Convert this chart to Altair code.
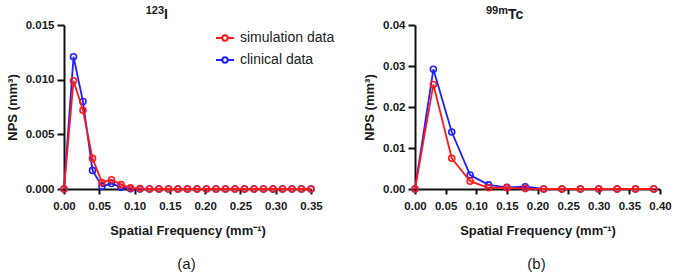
import altair as alt
import pandas as pd

FONT = "Liberation Sans"
RED = "#ff1a1a"
BLUE = "#1f1fff"

# Panel (a): 123I
freq_a = [0.0, 0.0135, 0.0269, 0.0404, 0.0538, 0.0673, 0.0808, 0.0942, 0.1077,
          0.1212, 0.1346, 0.1481, 0.1615, 0.1750, 0.1885, 0.2019, 0.2154, 0.2288,
          0.2423, 0.2558, 0.2692, 0.2827, 0.2962, 0.3096, 0.3231, 0.3365, 0.3500]
sim_a = [0.0, 0.0099, 0.0072, 0.0028, 0.0006, 0.00085, 0.0004, 0.0001, 0.00005,
         0.0, 0.0, 0.0, 0.0, 0.0, 0.0, 0.0, 0.0, 0.0,
         0.0, 0.0, 0.0, 0.0, 0.0, 0.0, 0.0, 0.0, 0.0]
cli_a = [0.0, 0.0121, 0.0080, 0.0017, 0.00024, 0.0005, 0.00015, 0.00002, 0.0,
         0.0, 0.0, 0.0, 0.0, 0.0, 0.0, 0.0, 0.0, 0.0,
         0.0, 0.0, 0.0, 0.0, 0.0, 0.0, 0.0, 0.0, 0.0]

# Panel (b): 99mTc
freq_b = [0.0, 0.03, 0.06, 0.09, 0.12, 0.15, 0.18, 0.21, 0.24, 0.27, 0.30, 0.33, 0.36, 0.39]
sim_b = [0.0, 0.0255, 0.0075, 0.0019, 0.0003, 0.0003, 0.0001, 0.0, 0.0, 0.0, 0.0, 0.0, 0.0, 0.0]
cli_b = [0.0, 0.0292, 0.0139, 0.0034, 0.0010, 0.0004, 0.00055, 0.0, 0.0, 0.0, 0.0, 0.0, 0.0, 0.0]

series = ["simulation data", "clinical data"]


def long_df(freq, sim, cli):
    rows = []
    for f, v in zip(freq, sim):
        rows.append({"f": f, "nps": v, "series": "simulation data"})
    for f, v in zip(freq, cli):
        rows.append({"f": f, "nps": v, "series": "clinical data"})
    return pd.DataFrame(rows)


SYMBOL = ("M-1,0H-0.3 M0.3,0H1 M-0.3,0A0.3,0.3 0 1,0 0.3,0"
          "A0.3,0.3 0 1,0 -0.3,0")


def text_layer(s, size, weight, align, xpos, ypos, baseline="alphabetic"):
    return alt.Chart(pd.DataFrame({"t": [s]})).mark_text(
        font=FONT, fontSize=size, fontWeight=weight, color="#1a1a1a",
        baseline=baseline, align=align,
    ).encode(text="t:N", x=alt.value(xpos), y=alt.value(ypos))


def panel(df, xmax, xticks, ymax, yticks, yfmt, sup, main, tx, label, width, height):
    color = alt.Color(
        "series:N",
        scale=alt.Scale(domain=series, range=[RED, BLUE]),
        legend=alt.Legend(
            title=None, orient="none", legendX=151, legendY=3,
            symbolType=SYMBOL, symbolSize=324, symbolStrokeWidth=2,
            symbolFillColor="transparent",
            labelFont=FONT, labelFontSize=14, labelColor="#222",
            labelOffset=5, rowPadding=5, padding=0,
        ),
    )
    x = alt.X("f:Q", scale=alt.Scale(domain=[0, xmax], nice=False),
              axis=alt.Axis(values=xticks, format=".2f", labelFlush=False,
                            labelOverlap=False, tickSize=5, labelPadding=6,
                            title="Spatial Frequency (mm⁻¹)", titlePadding=13))
    y = alt.Y("nps:Q", scale=alt.Scale(domain=[0, ymax], nice=False),
              axis=alt.Axis(values=yticks, format=yfmt, labelFlush=False,
                            labelOverlap=False, tickSize=7, labelPadding=3,
                            title="NPS (mm³)", titlePadding=6))
    layers = []
    for s in ["clinical data", "simulation data"]:
        base = alt.Chart(df).transform_filter(alt.datum.series == s)
        layers.append(base.mark_line(strokeWidth=1.8).encode(x=x, y=y, color=color))
        layers.append(base.mark_point(filled=False, size=36, strokeWidth=1.6,
                                      opacity=1).encode(x=x, y=y, color=color))
    layers.append(text_layer(sup, 11, "bold", "right", tx, -11.5))
    layers.append(text_layer(main, 14, "bold", "left", tx, -6.5))
    layers.append(text_layer(label, 15, "normal", "center", width / 2 - 1,
                             height + 75, baseline="middle"))
    return alt.layer(*layers).properties(width=width, height=height)


left = panel(long_df(freq_a, sim_a, cli_a), 0.35,
             [0, 0.05, 0.10, 0.15, 0.20, 0.25, 0.30, 0.35],
             0.015, [0, 0.005, 0.010, 0.015], ".3f", "123", "I", 100, "(a)", 247, 164)
right = panel(long_df(freq_b, sim_b, cli_b), 0.40,
              [0, 0.05, 0.10, 0.15, 0.20, 0.25, 0.30, 0.35, 0.40],
              0.04, [0, 0.01, 0.02, 0.03, 0.04], ".2f", "99m", "Tc", 93, "(b)", 245, 164)

chart = alt.hconcat(left, right, spacing=40).properties(
    padding={"left": 6, "top": 4, "right": 0, "bottom": 0},
    background="white",
).configure_view(stroke=None).configure_axis(
    grid=False, domainColor="#111", domainWidth=2, tickColor="#111", tickWidth=2,
    labelFont=FONT, labelFontSize=11.5, labelFontWeight="bold",
    labelColor="#1a1a1a", titleFont=FONT, titleFontSize=13,
    titleFontWeight="bold", titleColor="#1a1a1a",
)

chart.save("out.html", embed_options={"renderer": "svg", "actions": False})
